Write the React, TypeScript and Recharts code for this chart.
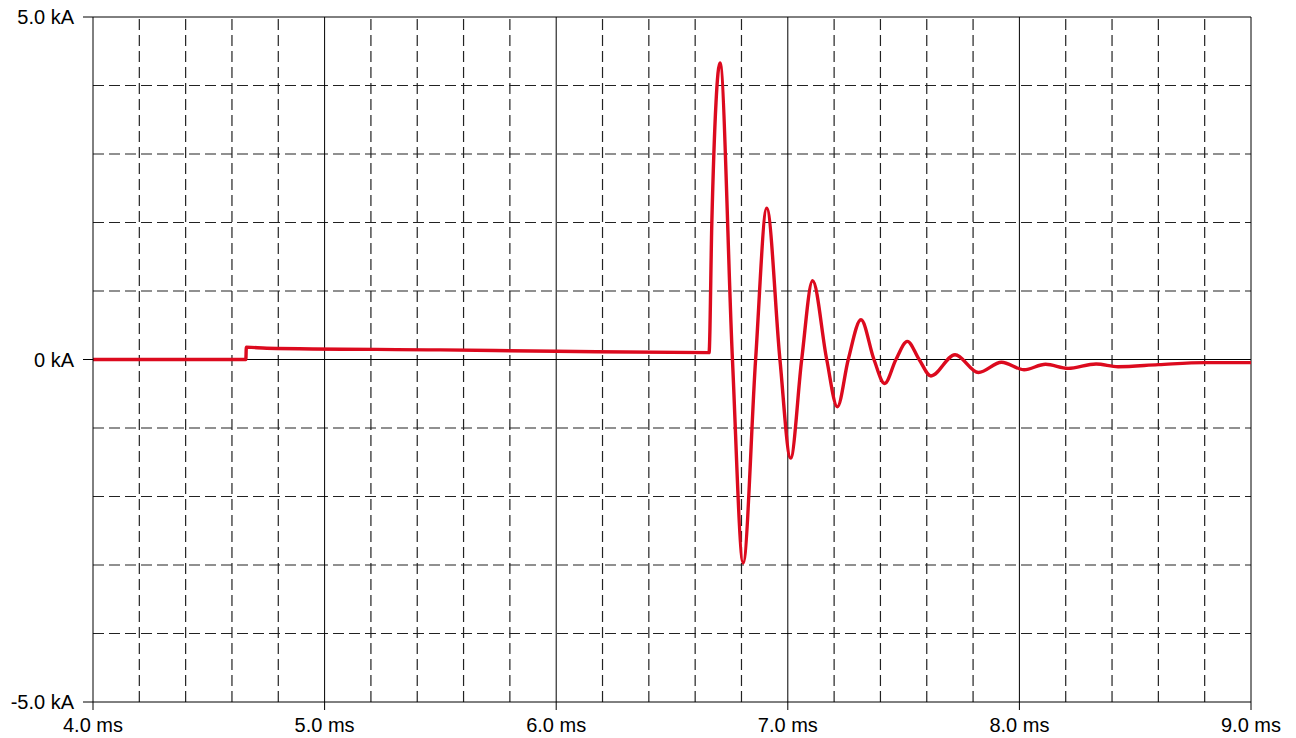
import { LineChart, Line, XAxis, YAxis, ReferenceLine } from "recharts";

// time (ms) and current (kA)
const TIME_MS = [
  4.0, 4.66, 4.662, 4.75, 5.5, 6.0, 6.66,
  6.672, 6.69, 6.707, 6.761, 6.807, 6.861, 6.909, 6.966, 7.012, 7.06,
  7.107, 7.168, 7.214, 7.261, 7.316, 7.372, 7.418, 7.467, 7.516, 7.567,
  7.618, 7.722, 7.823, 7.923, 8.02, 8.113, 8.21, 8.331, 8.426, 8.6, 8.8, 9.0,
];
const CURRENT_KA = [
  0, 0, 0.18, 0.165, 0.14, 0.12, 0.1,
  2.0, 3.75, 4.33, 0, -2.97, 0, 2.21, 0, -1.44, 0,
  1.15, 0, -0.69, 0, 0.58, 0, -0.35, 0, 0.265, 0,
  -0.24, 0.07, -0.19, -0.04, -0.15, -0.07, -0.13, -0.065, -0.105, -0.075, -0.045, -0.045,
];

const X_TICKS = [4, 5, 6, 7, 8, 9];
const Y_TICKS = [-5, 0, 5];
const X_MINOR = [4.2, 4.4, 4.6, 4.8, 5.2, 5.4, 5.6, 5.8, 6.2, 6.4, 6.6, 6.8, 7.2, 7.4, 7.6, 7.8, 8.2, 8.4, 8.6, 8.8];
const X_MAJOR = [5, 6, 7, 8, 9];
const Y_MINOR = [-4, -3, -2, -1, 1, 2, 3, 4];
const Y_MAJOR = [0, 5];

const data = TIME_MS.map((t, i) => ({ t, i: CURRENT_KA[i] }));

const tickStyle = { fill: "#000", fontSize: 20, fontFamily: "'Liberation Sans', Arial, sans-serif" };

export default function App() {
  return (
    <div style={{ position: "absolute", left: 0, top: 0, background: "#fff" }}>
      <LineChart width={1296} height={738} data={data} margin={{ top: 17, right: 45, bottom: 0, left: 0 }}>
        <XAxis
          dataKey="t"
          type="number"
          domain={[4, 9]}
          ticks={X_TICKS}
          tickFormatter={(v: number) => `${v.toFixed(1)} ms`}
          tick={tickStyle}
          tickSize={8}
          tickMargin={8}
          height={36}
          stroke="#000"
          allowDataOverflow
        />
        <YAxis
          type="number"
          domain={[-5, 5]}
          ticks={Y_TICKS}
          tickFormatter={(v: number) => (v === 0 ? "0 kA" : `${v.toFixed(1)} kA`)}
          tick={tickStyle}
          tickSize={10}
          tickMargin={9}
          width={93}
          stroke="#000"
          allowDataOverflow
        />
        {X_MINOR.map((x) => (
          <ReferenceLine key={`xm${x}`} x={x} stroke="#222" strokeWidth={1.2} strokeDasharray="11 5" />
        ))}
        {Y_MINOR.map((y) => (
          <ReferenceLine key={`ym${y}`} y={y} stroke="#222" strokeWidth={1.2} strokeDasharray="11 5" />
        ))}
        {X_MAJOR.map((x) => (
          <ReferenceLine key={`xM${x}`} x={x} stroke="#000" />
        ))}
        {Y_MAJOR.map((y) => (
          <ReferenceLine key={`yM${y}`} y={y} stroke="#000" />
        ))}
        <Line
          dataKey="i"
          type="monotone"
          stroke="#dc0a1e"
          strokeWidth={3.4}
          dot={false}
          isAnimationActive={false}
        />
      </LineChart>
    </div>
  );
}
